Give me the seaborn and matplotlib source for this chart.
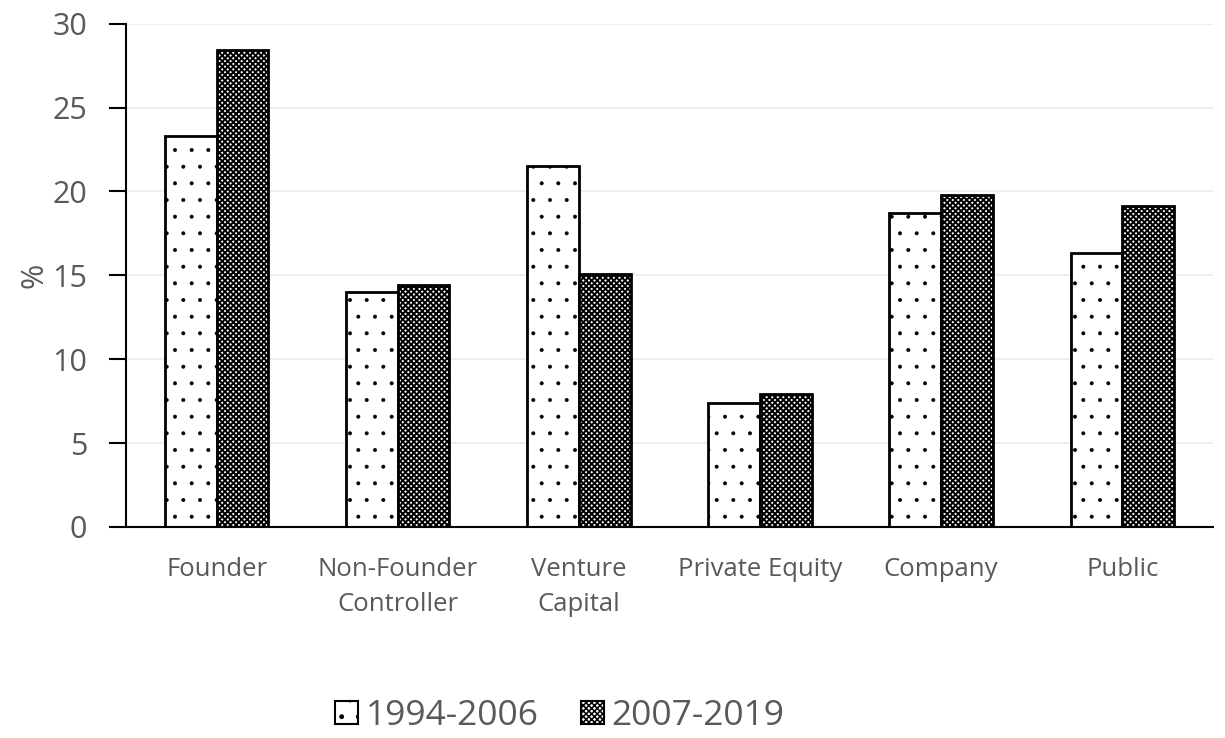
import matplotlib
matplotlib.use('Agg')
import matplotlib.pyplot as plt
import seaborn as sns
import pandas as pd
from matplotlib.patches import Patch

categories = ['Founder', 'Non-Founder\nController', 'Venture\nCapital',
              'Private Equity', 'Company', 'Public']
period_1 = [23.3, 14.0, 21.5, 7.4, 18.7, 16.3]
period_2 = [28.45, 14.4, 15.1, 7.9, 19.8, 19.1]
periods = ['1994-2006', '2007-2019']

df = pd.DataFrame({
    'category': categories * 2,
    'value': period_1 + period_2,
    'period': [periods[0]] * len(categories) + [periods[1]] * len(categories),
})

sns.set_style('white')
plt.rcParams['font.family'] = ['Open Sans', 'DejaVu Sans']
plt.rcParams['hatch.linewidth'] = 1.1

fig, ax = plt.subplots(figsize=(12.25, 7.38), dpi=100)
fig.subplots_adjust(left=0.103, right=0.99, top=0.968, bottom=0.286)

sns.barplot(data=df, x='category', y='value', hue='period', ax=ax,
            width=0.57, palette=['white', 'white'], edgecolor='black',
            linewidth=2, legend=False)

hatches = ['.', 'xxxxxx']
hatch_lw = [0.4, 1.4]
n = len(categories)


def style_hatch(patch, k):
    patch.set_hatch(hatches[k])
    if hasattr(patch, 'set_hatch_linewidth'):
        patch.set_hatch_linewidth(hatch_lw[k])


for i, bar in enumerate(ax.patches[:2 * n]):
    style_hatch(bar, i // n)

ax.set_ylim(0, 30)
ax.set_yticks(range(0, 31, 5))
ax.set_xlim(-0.5, n - 0.5)
ax.yaxis.grid(True, color='#ebebeb', linewidth=1.2)
ax.set_axisbelow(True)
for s in ['top', 'right']:
    ax.spines[s].set_visible(False)
for s in ['left', 'bottom']:
    ax.spines[s].set_color('black')
    ax.spines[s].set_linewidth(1.5)

ax.tick_params(axis='y', which='both', left=True, length=12, width=1.5,
               color='black', labelsize=22, labelcolor='#595959', pad=16)
ax.tick_params(axis='x', bottom=False, labelsize=18.5, labelcolor='#595959', pad=18)
for lbl in ax.get_xticklabels():
    lbl.set_linespacing(1.55)
ax.set_xlabel('')
ax.set_ylabel('%', fontsize=22, color='#595959', labelpad=2)

handles = []
for k in range(2):
    h = Patch(facecolor='white', edgecolor='black', linewidth=1.5)
    style_hatch(h, k)
    handles.append(h)
fig.legend(handles, periods, loc='center', ncol=2, frameon=False,
           fontsize=25.5, labelcolor='#595959', bbox_to_anchor=(0.457, 0.03),
           handlelength=0.65, handleheight=0.65, handletextpad=0.2,
           columnspacing=1.2)

fig.savefig('out.png', dpi=100)
